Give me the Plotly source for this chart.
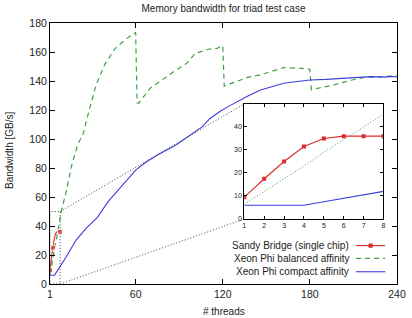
import plotly.graph_objects as go

# ---------------- data ----------------
sb_threads = [1, 2, 3, 4, 5, 6, 7, 8]
sb_bw = [9.5, 17.5, 25, 31.5, 35, 36, 36, 36]

bal_threads = [1, 2, 3, 4, 5, 6, 7, 8, 9, 12, 16, 20, 24, 28, 33, 39, 46, 54, 60,
               61, 62, 70, 78, 88, 95, 101, 110, 116, 120,
               121, 125, 137, 145, 153, 162, 175, 180,
               181, 188, 196, 209, 218, 230, 240]
bal_bw = [6.5, 12, 17.5, 23, 29, 34.5, 40, 45.5, 51, 63, 82, 96, 104, 120, 138, 152, 162.5, 169.4, 173.5,
          125, 124.6, 135, 140.7, 147.6, 152, 159, 161.9, 162.5, 164.3,
          136.5, 138, 142.5, 144, 146.4, 149.2, 148.7, 148,
          134, 135.5, 137.2, 140.7, 142.5, 143, 143.5]

cmp_threads = [1, 2, 3, 4, 5, 6, 7, 8, 12, 19, 26, 33, 34, 41, 50, 60, 67, 75, 88, 97,
               106, 111, 118, 124, 130, 137, 146, 153, 162, 170, 180, 191, 202, 212, 222, 232, 236, 240]
cmp_bw = [6, 6, 6, 6, 7.5, 9, 10.5, 12, 18.5, 30.3, 38.5, 45.3, 46.5, 56.8, 67, 78.6, 84, 89, 96, 102,
          108.5, 114, 119, 122.5, 126, 129.5, 133.8, 135.8, 138.4, 139.5, 140.7, 141.1, 141.9,
          142.3, 143, 142.7, 143.2, 142.8]

main_xticks = [1, 60, 120, 180, 240]
main_yticks = [0, 20, 40, 60, 80, 100, 120, 140, 160, 180]
inset_xticks = [1, 2, 3, 4, 5, 6, 7, 8]
inset_yticks = [0, 10, 20, 30, 40]

labels = ["Sandy Bridge (single chip)", "Xeon Phi balanced affinity", "Xeon Phi compact affinity"]

# ---------------- style ----------------
RED = "#dd2a2a"
GREEN = "#3fa03f"
BLUE = "#3d3ddb"
FONT = "Liberation Sans"
TXT = "#222222"

main_xr = [1, 240]
main_yr = [0, 180]
inset_xr = [1, 8]
inset_yr = [0, 50]
inset_dx = [0.56, 0.961]
inset_dy = [0.249, 0.69]

fig = go.Figure()

# main traces
fig.add_trace(go.Scatter(x=bal_threads, y=bal_bw, mode="lines",
                         line=dict(color=GREEN, width=1.2, dash="5px,4px"),
                         xaxis="x", yaxis="y", showlegend=False))
fig.add_trace(go.Scatter(x=cmp_threads, y=cmp_bw, mode="lines",
                         line=dict(color=BLUE, width=1.1),
                         xaxis="x", yaxis="y", showlegend=False))
fig.add_trace(go.Scatter(x=sb_threads, y=sb_bw, mode="lines+markers",
                         line=dict(color=RED, width=1.1, shape="spline"),
                         marker=dict(symbol="square", color=RED,
                                     size=[5, 0, 5, 0, 0, 0, 0, 5]),
                         xaxis="x", yaxis="y", showlegend=False))

# inset traces
fig.add_trace(go.Scatter(x=bal_threads[:8], y=bal_bw[:8], mode="lines",
                         line=dict(color=GREEN, width=1, dash="1px,2px"),
                         xaxis="x2", yaxis="y2", showlegend=False))
fig.add_trace(go.Scatter(x=cmp_threads[:8], y=cmp_bw[:8], mode="lines",
                         line=dict(color=BLUE, width=1.1),
                         xaxis="x2", yaxis="y2", showlegend=False))
fig.add_trace(go.Scatter(x=sb_threads, y=sb_bw, mode="lines+markers",
                         line=dict(color=RED, width=1.1),
                         marker=dict(symbol="square", color=RED, size=4),
                         xaxis="x2", yaxis="y2", showlegend=False))

# connectors: zoom rectangle and lines to inset corners (computed from ranges/domains)
ix0 = main_xr[0] + inset_dx[0] * (main_xr[1] - main_xr[0])
iy0 = main_yr[0] + inset_dy[0] * (main_yr[1] - main_yr[0])
iy1 = main_yr[0] + inset_dy[1] * (main_yr[1] - main_yr[0])
dot = dict(color="#333333", width=0.9, dash="1px,2px")
shapes = [
    dict(type="rect", xref="x", yref="y", x0=inset_xr[0], x1=inset_xr[1], y0=inset_yr[0], y1=inset_yr[1],
         line=dot, layer="above"),
    dict(type="line", xref="x", yref="y", x0=inset_xr[1], y0=inset_yr[1], x1=ix0, y1=iy1, line=dot),
    dict(type="line", xref="x", yref="y", x0=inset_xr[1], y0=inset_yr[0], x1=ix0, y1=iy0, line=dot),
]

# manual legend (text left, sample right)
leg_y = [0.147, 0.098, 0.047]
leg_text_x = 0.867
leg_s0, leg_s1 = 0.882, 0.966
annotations = []
for lab, yy in zip(labels, leg_y):
    annotations.append(dict(text=lab, x=leg_text_x, y=yy, xref="paper", yref="paper",
                            xanchor="right", yanchor="middle", showarrow=False,
                            font=dict(family=FONT, size=10, color=TXT)))
shapes.append(dict(type="line", xref="paper", yref="paper", x0=leg_s0, x1=leg_s1, y0=leg_y[0], y1=leg_y[0],
                   line=dict(color=RED, width=1.1)))
mx = (leg_s0 + leg_s1) / 2
shapes.append(dict(type="rect", xref="paper", yref="paper", x0=mx - 0.006, x1=mx + 0.006,
                   y0=leg_y[0] - 0.008, y1=leg_y[0] + 0.008, fillcolor=RED, line=dict(width=0)))
shapes.append(dict(type="line", xref="paper", yref="paper", x0=leg_s0, x1=leg_s1, y0=leg_y[1], y1=leg_y[1],
                   line=dict(color=GREEN, width=1.2, dash="5px,4px")))
shapes.append(dict(type="line", xref="paper", yref="paper", x0=leg_s0, x1=leg_s1, y0=leg_y[2], y1=leg_y[2],
                   line=dict(color=BLUE, width=1.1)))

# axis titles
annotations.append(dict(text="Bandwidth [GB/s]", x=-0.115, y=0.51, xref="paper", yref="paper",
                        textangle=-90, showarrow=False, xanchor="center", yanchor="middle",
                        font=dict(family=FONT, size=10, color=TXT)))
annotations.append(dict(text="# threads", x=0.5, y=-0.105, xref="paper", yref="paper",
                        showarrow=False, xanchor="center", yanchor="middle",
                        font=dict(family=FONT, size=10, color=TXT)))

axis_common = dict(showgrid=False, zeroline=False, showline=True, linecolor="black", linewidth=1,
                   mirror="allticks", ticks="inside", tickcolor="black", ticklabeloverflow="allow")

fig.update_layout(
    width=412, height=318,
    margin=dict(l=50, r=6, t=23, b=34),
    paper_bgcolor="white", plot_bgcolor="white",
    title=dict(text="Memory bandwidth for triad test case", x=0.5, xref="paper", xanchor="center",
               y=1 - 8 / 318, yanchor="middle", font=dict(family=FONT, size=10, color=TXT)),
    xaxis=dict(range=main_xr, tickvals=main_xticks, ticklen=5, domain=[0, 1], anchor="y",
               tickfont=dict(family=FONT, size=10.5, color=TXT), **axis_common),
    yaxis=dict(range=main_yr, tickvals=main_yticks, ticklen=5, domain=[0, 1], anchor="x",
               tickfont=dict(family=FONT, size=10.5, color=TXT), **axis_common),
    xaxis2=dict(range=inset_xr, tickvals=inset_xticks, ticklen=3, domain=inset_dx, anchor="y2",
                tickfont=dict(family=FONT, size=7, color=TXT), **axis_common),
    yaxis2=dict(range=inset_yr, tickvals=inset_yticks, ticklen=3, domain=inset_dy, anchor="x2",
                tickfont=dict(family=FONT, size=7, color=TXT), **axis_common),
    shapes=shapes, annotations=annotations, showlegend=False,
)

fig.write_html("out.html")
